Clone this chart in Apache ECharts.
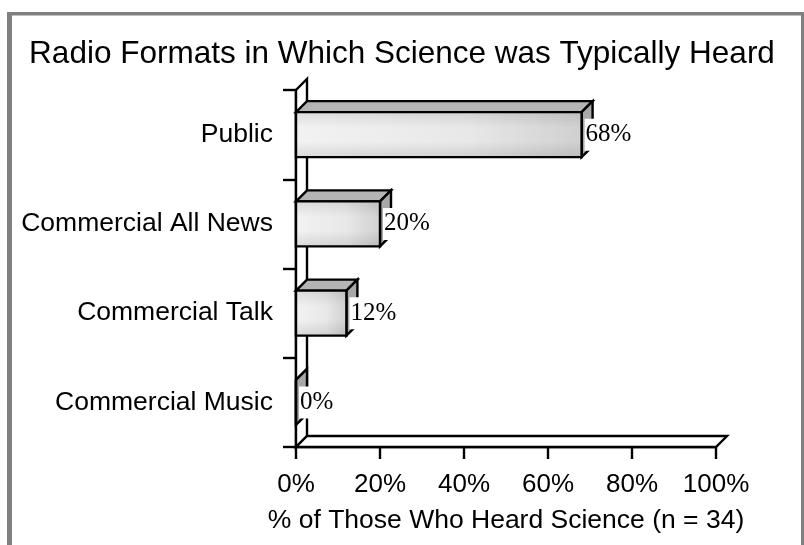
<!DOCTYPE html>
<html>
<head>
<meta charset="utf-8">
<script src="https://cdn.jsdelivr.net/npm/echarts@6/dist/echarts.min.js"></script>
<style>
html,body{margin:0;padding:0;background:#fff;}
#chart{width:804px;height:545px;}
</style>
</head>
<body>
<div id="chart"></div>
<script>
const titleText = 'Radio Formats in Which Science was Typically Heard';
const categories = ['Public', 'Commercial All News', 'Commercial Talk', 'Commercial Music'];
const values = [68, 20, 12, 0];
const valueLabels = ['68%', '20%', '12%', '0%'];
const xTickValues = [0, 20, 40, 60, 80, 100];
const xAxisName = '% of Those Who Heard Science (n = 34)';

const SANS = "'Liberation Sans', Arial, sans-serif";
const SERIF = "'Liberation Serif', 'Times New Roman', serif";
const DEPTH = 11;
const LW = 2.4;

const chart = echarts.init(document.getElementById('chart'), null, {renderer: 'canvas'});

function renderFrame(params, api) {
  const band = api.size([0, 1])[1];
  const x0 = api.coord([xTickValues[0], 0])[0];
  const x1 = api.coord([xTickValues[xTickValues.length - 1], 0])[0];
  const yTop = api.coord([0, 0])[1] - band / 2;
  const yBot = api.coord([0, categories.length - 1])[1] + band / 2;
  const d = DEPTH;
  const st = {fill: '#fff', stroke: '#000', lineWidth: LW, lineJoin: 'miter'};
  return {
    type: 'group',
    children: [
      {type: 'polygon', shape: {points: [[x0, yTop], [x0 + d, yTop - d], [x0 + d, yBot - d], [x0, yBot]]}, style: st},
      {type: 'polygon', shape: {points: [[x0, yBot], [x0 + d, yBot - d], [x1 + d, yBot - d], [x1, yBot]]}, style: st}
    ]
  };
}

function renderBar(params, api) {
  const v = api.value(0);
  const i = api.value(1);
  const base = api.coord([0, i]);
  const end = api.coord([v, i]);
  const h = api.size([0, 1])[1] * 0.505;
  const xa = base[0], xb = end[0];
  const yt = base[1] - h / 2, yb = base[1] + h / 2;
  const d = DEPTH;
  const line = {stroke: '#000', lineWidth: LW, lineJoin: 'miter'};
  const children = [
    {type: 'polygon', shape: {points: [[xa, yt], [xa + d, yt - d], [xb + d, yt - d], [xb, yt]]},
      style: Object.assign({fill: '#b4b4b4'}, line)},
    {type: 'polygon', shape: {points: [[xb, yt], [xb + d, yt - d], [xb + d, yb - d], [xb, yb]]},
      style: Object.assign({fill: '#a8a8a8'}, line)}
  ];
  if (xb - xa > 0.5) {
    children.push({type: 'rect', shape: {x: xa, y: yt, width: xb - xa, height: h},
      style: {fill: new echarts.graphic.LinearGradient(0, 0, 1, 0, [
        {offset: 0, color: '#f2f2f2'}, {offset: 0.6, color: '#e8e8e8'}, {offset: 1, color: '#d0d0d0'}])}});
    children.push({type: 'rect', shape: {x: xa, y: yt, width: xb - xa, height: h},
      style: {fill: new echarts.graphic.LinearGradient(0, 0, 0, 1, [
        {offset: 0, color: 'rgba(0,0,0,0.09)'}, {offset: 0.35, color: 'rgba(0,0,0,0)'},
        {offset: 0.65, color: 'rgba(0,0,0,0)'}, {offset: 1, color: 'rgba(0,0,0,0.10)'}])}});
  }
  children.push({type: 'rect', shape: {x: xa, y: yt, width: xb - xa, height: h},
    style: Object.assign({fill: 'none'}, line)});
  children.push({type: 'text', x: xb + 3, y: base[1],
    style: {text: valueLabels[i], font: '25px ' + SERIF, fill: '#000', align: 'left', verticalAlign: 'middle',
      backgroundColor: '#fff', padding: [4, 1, 3, 1]}});
  return {type: 'group', children: children};
}

const option = {
  animation: false,
  backgroundColor: '#fff',
  title: {
    text: titleText, left: 'center', top: 38, padding: 0,
    textStyle: {fontFamily: SANS, fontSize: 31.5, fontWeight: 'normal', color: '#000'}
  },
  graphic: [
    {type: 'rect', shape: {x: 7, y: 12, width: 5, height: 540}, style: {fill: '#808080'}, z: 100},
    {type: 'rect', shape: {x: 7, y: 12, width: 797, height: 3.5}, style: {fill: '#808080'}, z: 100},
    {type: 'rect', shape: {x: 801, y: 12, width: 3, height: 540}, style: {fill: '#808080'}, z: 100}
  ],
  grid: {left: 296, right: 88, top: 90, bottom: 98, containLabel: false, outerBoundsMode: 'none'},
  xAxis: {
    type: 'value', min: 0, max: 100, interval: 20,
    axisLine: {show: true, lineStyle: {color: '#000', width: LW}},
    axisTick: {show: true, length: 12, lineStyle: {color: '#000', width: LW}},
    splitLine: {show: false},
    axisLabel: {formatter: '{value}%', fontFamily: SANS, fontSize: 26, color: '#000', margin: 25},
    name: xAxisName, nameLocation: 'middle', nameGap: 60,
    nameTextStyle: {fontFamily: SANS, fontSize: 26.5, color: '#000'}
  },
  yAxis: {
    type: 'category', data: categories, inverse: true,
    axisLine: {show: true, lineStyle: {color: '#000', width: LW}},
    axisTick: {show: true, length: 13, lineStyle: {color: '#000', width: LW}},
    axisLabel: {fontFamily: SANS, fontSize: 26.5, color: '#000', margin: 23}
  },
  series: [
    {type: 'custom', renderItem: renderFrame, data: [[0, 0]], encode: {x: 0, y: 1}, z: 1, silent: true},
    {type: 'custom', renderItem: renderBar, data: values.map((v, i) => [v, i]), encode: {x: 0, y: 1}, z: 2}
  ]
};
chart.setOption(option);
</script>
</body>
</html>
